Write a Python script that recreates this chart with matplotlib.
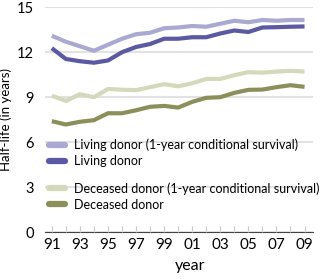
import matplotlib.pyplot as plt
from matplotlib.lines import Line2D

plt.rcParams['font.family'] = ['Lato', 'DejaVu Sans']

years = list(range(1991, 2010))
living_1yr = [13.1, 12.7, 12.4, 12.1, 12.5, 12.9, 13.2, 13.3, 13.6, 13.65,
              13.75, 13.7, 13.9, 14.1, 14.0, 14.15, 14.1, 14.15, 14.15]
living = [12.27, 11.55, 11.4, 11.3, 11.45, 12.0, 12.35, 12.55, 12.9, 12.9,
          13.0, 13.0, 13.25, 13.45, 13.35, 13.65, 13.67, 13.7, 13.72]
deceased_1yr = [9.1, 8.75, 9.2, 9.0, 9.55, 9.5, 9.47, 9.67, 9.87, 9.73,
                9.93, 10.22, 10.22, 10.47, 10.67, 10.64, 10.71, 10.76, 10.71]
deceased = [7.4, 7.18, 7.36, 7.47, 7.93, 7.93, 8.13, 8.36, 8.42, 8.31,
            8.69, 8.96, 9.0, 9.29, 9.49, 9.51, 9.67, 9.8, 9.69]

labels = ['Living donor (1-year conditional survival)', 'Living donor',
          'Deceased donor (1-year conditional survival)', 'Deceased donor']
colors = ['#a9a9d1', '#5a59a1', '#d4d9bb', '#8d8f5b']

fig = plt.figure(figsize=(3.2, 2.79), dpi=100)
ax = fig.add_axes([0.14, 0.168, 0.838, 0.806])

series = [living_1yr, living, deceased_1yr, deceased]
for vals, c in zip(series, colors):
    ax.plot(years, vals, color=c, lw=3, solid_capstyle='butt')

ax.set_ylim(0, 15)
ax.set_xlim(1990.5, 2009.6)
ax.set_yticks([0, 3, 6, 9, 12, 15])
ax.set_xticks(years)
ax.set_xticklabels([str(y)[2:] if y % 2 == 1 else '' for y in years])
ax.tick_params(axis='x', direction='in', length=4, color='#c8c8c8', labelsize=11, pad=4)
ax.tick_params(axis='y', length=0, labelsize=10.5, pad=8)
ax.grid(axis='y', color='#e2e2e2', lw=1.5)
ax.set_axisbelow(True)
for s in ['top', 'right', 'left']:
    ax.spines[s].set_visible(False)
ax.spines['bottom'].set_color('#444444')
ax.spines['bottom'].set_zorder(0.5)

ax.set_ylabel('Half-life (in years)', fontsize=9.5, labelpad=3)
ax.set_xlabel('year', fontsize=11.5, labelpad=5)
ax.xaxis.set_label_coords(0.54, -0.12)

def handles(idx):
    return [Line2D([], [], color=colors[i], lw=4.5, solid_capstyle='round') for i in idx]

leg_kw = dict(loc='upper left', frameon=False, fontsize=9, handlelength=1.3,
              handletextpad=0.75, labelspacing=0.3, borderaxespad=0, borderpad=0)
leg1 = ax.legend(handles([0, 1]), labels[:2], bbox_to_anchor=(0.015, 0.415), **leg_kw)
ax.add_artist(leg1)
ax.legend(handles([2, 3]), labels[2:], bbox_to_anchor=(0.015, 0.222), **leg_kw)

fig.savefig('out.png', dpi=100)
